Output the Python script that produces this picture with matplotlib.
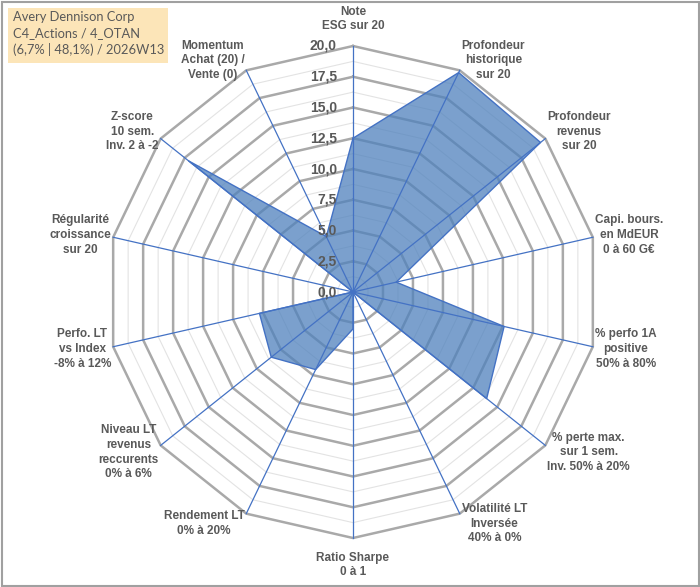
import matplotlib.pyplot as plt
import numpy as np
from matplotlib.patches import Rectangle

# Radar axes (clockwise from the top)
categories = [
    'Note\nESG sur 20',
    'Profondeur\nhistorique\nsur 20',
    'Profondeur\nrevenus\nsur 20',
    'Capi. bours.\nen MdEUR\n0 à 60 G€',
    '% perfo 1A\npositive\n50% à 80%',
    '% perte max.\nsur 1 sem.\nInv. 50% à 20%',
    'Volatilité LT\nInversée\n40% à 0%',
    'Ratio Sharpe\n0 à 1',
    'Rendement LT\n0% à 20%',
    'Niveau LT\nrevenus\nreccurents\n0% à 6%',
    'Perfo. LT\nvs Index\n-8% à 12%',
    'Régularité\ncroissance\nsur 20',
    'Z-score\n10 sem.\nInv. 2 à -2',
    'Momentum\nAchat (20) /\nVente (0)',
]
scores = [12.5, 19.8, 19.5, 3.6, 12.6, 13.9, 0.0, 3.0, 7.0, 8.5, 7.8, 0.0, 17.1, 5.0]
major_ticks = [0.0, 2.5, 5.0, 7.5, 10.0, 12.5, 15.0, 17.5, 20.0]
minor_ticks = [1.25, 3.75, 6.25, 8.75, 11.25, 13.75, 16.25, 18.75]
title_lines = ['Avery Dennison Corp', 'C4_Actions / 4_OTAN', '(6,7% | 48,1%) / 2026W13']

W, H = 700, 587
cx, cy = 353, 292          # centre in pixels (from top-left)
px_per_unit = 246 / 20.0

fig = plt.figure(figsize=(W / 100, H / 100), dpi=100)
ax = fig.add_axes([0, 0, 1, 1])
ax.set_xlim(-cx / px_per_unit, (W - cx) / px_per_unit)
ax.set_ylim(-(H - cy) / px_per_unit, cy / px_per_unit)
ax.axis('off')

n = len(categories)
theta = np.arange(n) * 2 * np.pi / n
sx, cy_ = np.sin(theta), np.cos(theta)


def ring(r):
    xs = np.append(r * sx, r * sx[0])
    ys = np.append(r * cy_, r * cy_[0])
    return xs, ys


grey = '#595959'

# grid rings
for r in minor_ticks:
    ax.plot(*ring(r), color='#E3E3E3', lw=0.8, zorder=1)
for r in major_ticks[1:]:
    ax.plot(*ring(r), color='#A9A9A9', lw=1.8, zorder=2)

# data polygon
vals = np.array(scores)
xs = np.append(vals * sx, vals[0] * sx[0])
ys = np.append(vals * cy_, vals[0] * cy_[0])
ax.fill(xs, ys, color='#4F81BD', alpha=0.75, zorder=3, lw=0)
ax.plot(xs, ys, color='#4472C4', lw=1.0, zorder=4)

# spokes
for i in range(n):
    ax.plot([0, 20 * sx[i]], [0, 20 * cy_[i]], color='#4472C4', lw=0.9, zorder=5)

# radial tick labels
for r in major_ticks:
    ax.annotate(f'{r:.1f}'.replace('.', ','), (0, r), xytext=(-16, 0),
                textcoords='offset pixels', ha='right', va='center',
                fontsize=10, fontweight='bold', color=grey,
                fontname='Liberation Sans', zorder=6)

# category labels
for i, lab in enumerate(categories):
    if abs(sx[i]) < 0.1:
        ha, dx, dy = 'center', 0, 27 * cy_[i]
    elif sx[i] > 0:
        ha, dx, dy = 'left', 2, 11 * cy_[i]
    else:
        ha, dx, dy = 'right', -2, 11 * cy_[i]
    ax.annotate(lab, (20 * sx[i], 20 * cy_[i]), xytext=(dx, dy),
                textcoords='offset pixels', ha=ha, va='center',
                multialignment='center', linespacing=1.3,
                fontsize=8.5, fontweight='bold', color=grey,
                fontname='Liberation Sans', zorder=6)

# title box
fig.patches.append(Rectangle((8 / W, 1 - 63 / H), 160 / W, 55 / H,
                             transform=fig.transFigure, facecolor='#FCE5B8',
                             edgecolor='none', zorder=0))
fig.text(13 / W, 1 - 11 / H, '\n'.join(title_lines), ha='left', va='top',
         fontsize=9.3, color=grey, fontname='Lato', linespacing=1.4)

# chart border
fig.patches.append(Rectangle((1.5 / W, 1.5 / H), 1 - 3 / W, 1 - 3 / H,
                             transform=fig.transFigure, fill=False,
                             edgecolor='#A0A0A0', lw=1.5))

fig.savefig('out.png', dpi=100)
